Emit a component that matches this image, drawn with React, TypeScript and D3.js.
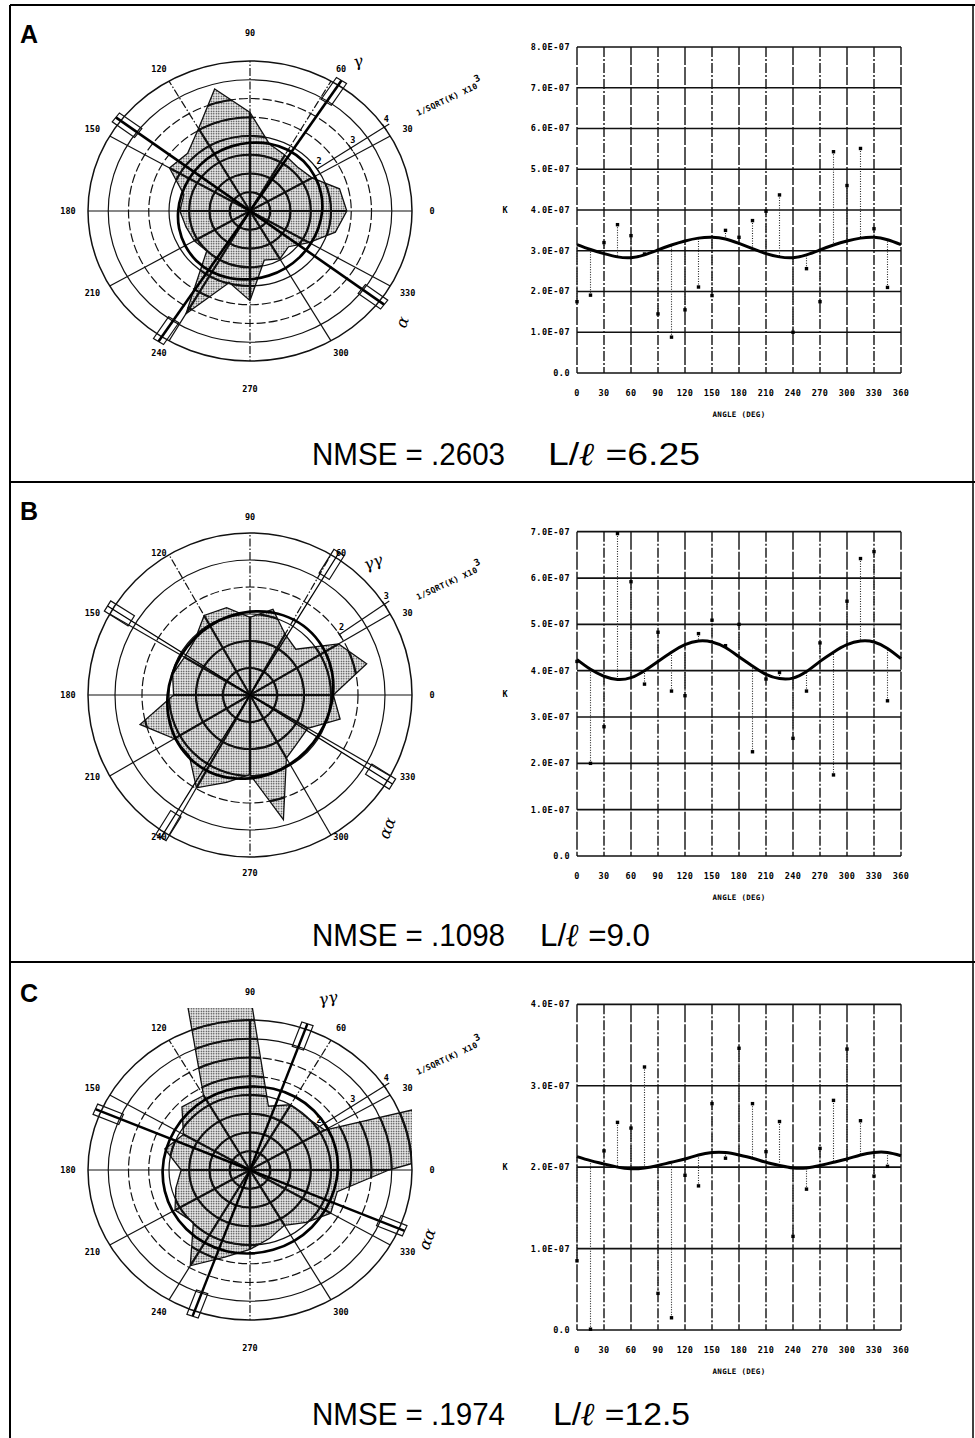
import React from "react";
import * as d3 from "d3";

// ---------- data ----------
const sampleAngles = d3.range(0, 360, 15); // measured directions (deg)
const fitAngles = d3.range(0, 361, 15); // fitted curve samples (deg)
const xTickValues = d3.range(0, 361, 30);
const spokeAngles = d3.range(0, 360, 30);

// K values, in units of 1E-07
const kA = [1.75, 1.91, 3.2, 3.64, 3.37, 2.92, 1.45, 0.88, 1.55, 2.11, 1.9, 3.5, 3.33, 3.74, 3.97, 4.37, 1.0, 2.56, 1.75, 5.43, 4.6, 5.51, 3.54, 2.1];
const kB = [4.2, 2.0, 2.79, 6.96, 5.92, 3.71, 4.83, 3.56, 3.46, 4.8, 5.09, 4.54, 5.0, 2.25, 3.82, 3.96, 2.54, 3.56, 4.6, 1.75, 5.5, 6.42, 6.57, 3.35];
const kC = [0.85, 0.01, 2.2, 2.55, 2.48, 3.23, 0.45, 0.15, 1.9, 1.77, 2.78, 2.11, 3.46, 2.78, 2.19, 2.56, 1.15, 1.73, 2.23, 2.82, 3.45, 2.57, 1.89, 2.01];

// fitted sinusoid read at 15 deg steps (1E-07)
const fitA = [3.15, 3.03, 2.93, 2.85, 2.83, 2.9, 3.02, 3.14, 3.24, 3.31, 3.33, 3.29, 3.18, 3.05, 2.93, 2.85, 2.83, 2.9, 3.02, 3.14, 3.24, 3.31, 3.33, 3.27, 3.15];
const fitB = [4.24, 4.03, 3.88, 3.81, 3.85, 4.0, 4.2, 4.4, 4.56, 4.64, 4.62, 4.5, 4.3, 4.1, 3.92, 3.83, 3.84, 3.98, 4.2, 4.4, 4.56, 4.64, 4.62, 4.48, 4.26];
const fitC = [2.13, 2.08, 2.04, 2.0, 1.98, 1.99, 2.02, 2.06, 2.1, 2.15, 2.18, 2.18, 2.15, 2.11, 2.06, 2.02, 1.99, 1.99, 2.02, 2.06, 2.1, 2.15, 2.18, 2.18, 2.14];

const yTicksA = [0, 1, 2, 3, 4, 5, 6, 7, 8];
const yTicksB = [0, 1, 2, 3, 4, 5, 6, 7];
const yTicksC = [0, 1, 2, 3, 4];

const panelLetters = ["A", "B", "C"];
const nmseLabels = ["NMSE = .2603", "NMSE = .1098", "NMSE = .1974"];
const ratioValues = ["6.25", "9.0", "12.5"];

// ---------- helpers ----------
const PLOT_FONT = "'DejaVu Sans Mono', monospace";
const fmtK = (v: number) => (v === 0 ? "0.0" : `${v.toFixed(1)}E-07`);
const rad = (d: number) => (d * Math.PI) / 180;

function PolarPlot(props: any) {
  const { id, cx, cy, k, fit, vMax, ky, axes, axisW, ringDash, ann } = props;
  const R = 162;
  const r = d3.scaleLinear().domain([0, vMax]).range([0, R]);
  const P = (deg: number, rr: number) => [cx + rr * Math.cos(rad(deg)), cy - rr * Math.sin(rad(deg)) * ky];
  const proj = (px: number, py: number) => [cx + px, cy - py * ky];
  const toV = (kv: number) => 1 / Math.sqrt(kv * 1e-7) / 1000;

  const polyPts = sampleAngles.map((a, i) => P(a, r(toV(k[i]))));
  const polyD = d3.line()(polyPts as any) + "Z";
  const fitPts = fitAngles.slice(0, -1).map((a, i) => P(a, r(toV(fit[i]))));
  const fitD = d3.line().curve(d3.curveCardinalClosed)(fitPts as any);
  const rings = d3.range(1, vMax * 2 + 1).map((i) => i / 2);
  const dashedSpokes = [60, 90, 120, 270];

  const grid = (thick: boolean) => (
    <g>
      {rings.map((v) => (
        <ellipse
          key={"r" + v}
          cx={cx}
          cy={cy}
          rx={r(v)}
          ry={r(v) * ky}
          fill="none"
          stroke="#111"
          strokeWidth={thick ? 2.2 : v === vMax ? 1.5 : 1.2}
          strokeDasharray={!thick && ringDash.includes(v) ? "9,3" : undefined}
        />
      ))}
      {spokeAngles.map((a) => {
        const [x2, y2] = P(a, R);
        return (
          <line
            key={"s" + a}
            x1={cx}
            y1={cy}
            x2={x2}
            y2={y2}
            stroke="#111"
            strokeWidth={thick ? 2.2 : 1.2}
            strokeDasharray={!thick && dashedSpokes.includes(a) ? "8,2,1.5,2" : undefined}
          />
        );
      })}
    </g>
  );

  const Lr = 168;
  const boxR1 = R - 22;
  const boxW = 6;
  const axisEls = axes.map((a: number) => {
    const [x1, y1] = P(a + 180, Lr);
    const [x2, y2] = P(a, Lr);
    const boxes = [a, a + 180].map((e) => {
      const ux = Math.cos(rad(e)), uy = Math.sin(rad(e));
      const nx = -uy, ny = ux;
      const pts = [
        [boxR1, -boxW],
        [Lr, -boxW],
        [Lr, boxW],
        [boxR1, boxW],
      ].map(([rr, ww]) => proj(ux * rr + nx * ww, uy * rr + ny * ww));
      return <path key={"b" + e} d={d3.line()(pts as any) + "Z"} fill="none" stroke="#111" strokeWidth={1.2} />;
    });
    return (
      <g key={"ax" + a}>
        <line x1={x1} y1={y1} x2={x2} y2={y2} stroke="#000" strokeWidth={axisW} />
        {boxes}
      </g>
    );
  });

  const axAng = 34;
  const axTicks = d3.range(2, vMax + 0.01, 1);
  const [ax1, ay1] = P(axAng, r(2));
  const [ax2, ay2] = P(axAng, R + 6);

  return (
    <g>
      <defs>
        <clipPath id={"rect" + id}>
          <rect x={cx - R} y={cy - R} width={2 * R} height={2 * R} />
        </clipPath>
        <clipPath id={"poly" + id}>
          <path d={polyD} />
        </clipPath>
      </defs>
      <g clipPath={`url(#rect${id})`}>
        <path d={polyD} fill="url(#stipple)" stroke="none" />
      </g>
      {grid(false)}
      <g clipPath={`url(#rect${id})`}>
        <g clipPath={`url(#poly${id})`}>{grid(true)}</g>
        <path d={polyD} fill="none" stroke="#111" strokeWidth={1.3} />
      </g>
      <path d={fitD as string} fill="none" stroke="#000" strokeWidth={2.7} />
      {axisEls}
      {/* radial axis */}
      <line x1={ax1} y1={ay1} x2={ax2} y2={ay2} stroke="#111" strokeWidth={1.2} />
      {axTicks.map((v) => {
        const [tx, ty] = P(axAng, r(v));
        return (
          <g key={"t" + v}>
            <line x1={tx - 2} y1={ty - 3} x2={tx + 2} y2={ty + 3} stroke="#111" strokeWidth={1.2} />
            <text x={tx + 2} y={ty - 5} fontSize={8.5} fontWeight="bold" fontFamily={PLOT_FONT} textAnchor="middle">
              {v}
            </text>
          </g>
        );
      })}
      <text
        transform={`translate(${cx + 168},${cy - 95}) rotate(-25)`}
        fontSize={8}
        fontWeight="bold"
        fontFamily={PLOT_FONT}
        letterSpacing={0.3}
      >
        1/SQRT(K) X10
        <tspan dy={-6} fontSize={9.5}>
          3
        </tspan>
      </text>
      {/* angle labels */}
      {spokeAngles.map((a) => {
        const s = Math.sin(rad(a));
        const lx = cx + 182 * Math.cos(rad(a));
        const ly = cy - s * (Math.abs(s) > 0.99 ? 178 : 164);
        return (
          <text
            key={"l" + a}
            x={lx}
            y={ly}
            dy="0.35em"
            textAnchor="middle"
            fontSize={8.5}
            fontWeight="bold"
            fontFamily={PLOT_FONT}
          >
            {a}
          </text>
        );
      })}
      {ann.map((t: any, i: number) => (
        <text
          key={"ann" + i}
          transform={`translate(${cx + t.dx},${cy + t.dy}) rotate(${t.rot})`}
          fontSize={16}
          fontStyle="italic"
          fontFamily="'DejaVu Serif', serif"
          textAnchor="middle"
          dy="0.35em"
        >
          {t.t}
        </text>
      ))}
    </g>
  );
}

function KChart(props: any) {
  const { yTop, yBot, yTicks, k, fit } = props;
  const x0 = 577, x1 = 901;
  const x = d3.scaleLinear().domain([0, 360]).range([x0, x1]);
  const yMax = yTicks[yTicks.length - 1];
  const y = d3.scaleLinear().domain([0, yMax]).range([yBot, yTop]);
  const fitD = d3
    .line()
    .x((d: any, i: number) => x(fitAngles[i]))
    .y((d: any) => y(d))
    .curve(d3.curveNatural)(fit);
  return (
    <g>
      {yTicks.map((t: number) => (
        <line key={"h" + t} x1={x0} x2={x1} y1={y(t)} y2={y(t)} stroke="#111" strokeWidth={1.7} />
      ))}
      {xTickValues.map((t) => (
        <line
          key={"v" + t}
          x1={x(t)}
          x2={x(t)}
          y1={yTop}
          y2={yBot}
          stroke="#111"
          strokeWidth={1.4}
          strokeDasharray={t % 60 === 0 ? "18,2" : "10,2,2,2"}
        />
      ))}
      {sampleAngles.map((a, i) => (
        <line
          key={"st" + a}
          x1={x(a)}
          x2={x(a)}
          y1={y(k[i])}
          y2={y(fit[i])}
          stroke="#222"
          strokeWidth={1.1}
          strokeDasharray="1,1.5"
        />
      ))}
      {sampleAngles.map((a, i) => (
        <rect key={"d" + a} x={x(a) - 1.7} y={y(k[i]) - 1.7} width={3.4} height={3.4} fill="#000" />
      ))}
      <path d={fitD as string} fill="none" stroke="#000" strokeWidth={3} />
      {yTicks.map((t: number) => (
        <text
          key={"yl" + t}
          x={x0 - 7}
          y={y(t)}
          dy="0.35em"
          textAnchor="end"
          fontSize={8.5}
          fontWeight="bold"
          fontFamily={PLOT_FONT}
          letterSpacing={0.5}
        >
          {fmtK(t)}
        </text>
      ))}
      {xTickValues.map((t) => (
        <text
          key={"xl" + t}
          x={x(t)}
          y={yBot + 23}
          textAnchor="middle"
          fontSize={8.5}
          fontWeight="bold"
          fontFamily={PLOT_FONT}
          letterSpacing={0.4}
        >
          {t}
        </text>
      ))}
      <text
        x={(x0 + x1) / 2}
        y={yBot + 44}
        textAnchor="middle"
        fontSize={7.5}
        fontWeight="bold"
        fontFamily={PLOT_FONT}
        letterSpacing={0.3}
      >
        ANGLE (DEG)
      </text>
      <text
        x={505}
        y={(yTop + yBot) / 2}
        dy="0.35em"
        textAnchor="middle"
        fontSize={8.5}
        fontWeight="bold"
        fontFamily={PLOT_FONT}
      >
        K
      </text>
    </g>
  );
}

const panels = [
  {
    id: "A", k: kA, fit: fitA, yTicks: yTicksA, vMax: 4, ky: 0.926, axes: [57, 143], axisW: 2.6,
    ringDash: [2.5, 3], cy: 211, yTop: 47, yBot: 373, letterY: 43, textY: 465, ratioX: 548, ratioW: 152,
    ann: [{ dx: 108, dy: -150, t: "γ", rot: -15 }, { dx: 152, dy: 111, t: "α", rot: -70 }],
  },
  {
    id: "B", k: kB, fit: fitB, yTicks: yTicksB, vMax: 3, ky: 1, axes: [58, 148], axisW: 1.3,
    ringDash: [2], cy: 695, yTop: 531.7, yBot: 856, letterY: 520, textY: 946, ratioX: 540, ratioW: 110,
    ann: [{ dx: 123, dy: -133, t: "γγ", rot: -20 }, { dx: 137, dy: 133, t: "αα", rot: -70 }],
  },
  {
    id: "C", k: kC, fit: fitC, yTicks: yTicksC, vMax: 4, ky: 0.926, axes: [70, 157], axisW: 2.4,
    ringDash: [2.5, 3], cy: 1170, yTop: 1004.3, yBot: 1330, letterY: 1002, textY: 1425, ratioX: 553, ratioW: 137,
    ann: [{ dx: 78, dy: -172, t: "γγ", rot: -10 }, { dx: 177, dy: 69, t: "αα", rot: -70 }],
  },
];

export default function App() {
  return (
    <svg
      width={975}
      height={1438}
      viewBox="0 0 975 1438"
      style={{ position: "absolute", left: 0, top: 0, background: "#fff" }}
    >
      <defs>
        <pattern id="stipple" width={2.5} height={2.5} patternUnits="userSpaceOnUse">
          <rect width={2.5} height={2.5} fill="#fff" />
          <rect x={0.6} y={0.6} width={1.4} height={1.4} fill="#222" />
        </pattern>
      </defs>
      <rect x={0} y={0} width={975} height={1438} fill="#fff" />
      {/* panel frame */}
      <line x1={10} y1={5} x2={975} y2={5} stroke="#000" strokeWidth={2} />
      <line x1={10} y1={482} x2={975} y2={482} stroke="#000" strokeWidth={2} />
      <line x1={10} y1={962} x2={975} y2={962} stroke="#000" strokeWidth={2} />
      <line x1={10} y1={5} x2={10} y2={1438} stroke="#000" strokeWidth={2} />
      <line x1={973} y1={5} x2={973} y2={1438} stroke="#000" strokeWidth={1.5} />
      {panels.map((p, i) => (
        <g key={p.id}>
          <text x={20} y={p.letterY} fontSize={25} fontWeight="bold" fontFamily="'Liberation Sans', Arial, sans-serif">
            {panelLetters[i]}
          </text>
          <PolarPlot
            id={p.id}
            cx={250}
            cy={p.cy}
            k={p.k}
            fit={p.fit}
            vMax={p.vMax}
            ky={p.ky}
            axes={p.axes}
            axisW={p.axisW}
            ringDash={p.ringDash}
            ann={p.ann}
          />
          <KChart yTop={p.yTop} yBot={p.yBot} yTicks={p.yTicks} k={p.k} fit={p.fit} />
          <text
            x={312}
            y={p.textY}
            fontSize={32}
            fontFamily="'Liberation Sans', Arial, sans-serif"
            textLength={193}
            lengthAdjust="spacingAndGlyphs"
          >
            {nmseLabels[i]}
          </text>
          <text
            x={p.ratioX}
            y={p.textY}
            fontSize={32}
            fontFamily="'Liberation Sans', Arial, sans-serif"
            textLength={p.ratioW}
            lengthAdjust="spacingAndGlyphs"
          >
            L/
            <tspan fontWeight="bold" fontStyle="italic" fontFamily="'DejaVu Serif', serif">
              ℓ
            </tspan>
            {" =" + ratioValues[i]}
          </text>
        </g>
      ))}
    </svg>
  );
}
